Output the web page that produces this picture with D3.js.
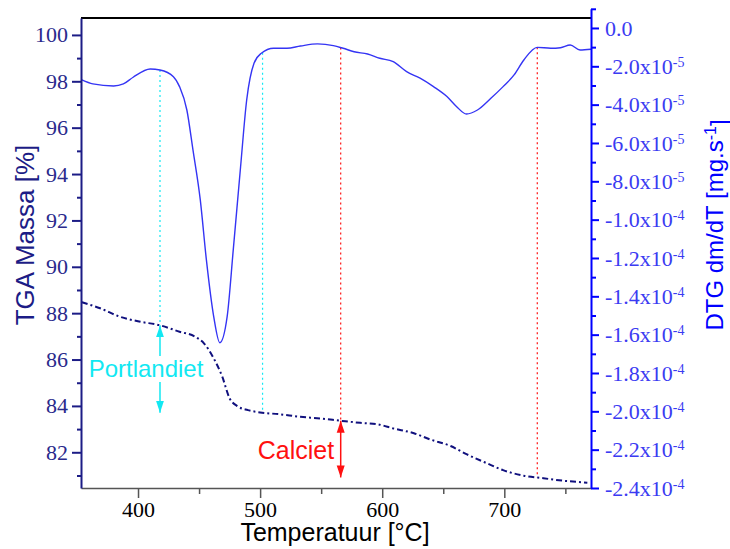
<!DOCTYPE html>
<html>
<head>
<meta charset="utf-8">
<script src="https://cdn.jsdelivr.net/npm/d3@7"></script>
<style>
body{margin:0;background:#fff}
svg{display:block}
</style>
</head>
<body>
<div class="canvas"></div>
<script>
// DTG curve: temperature (°C) and dm/dT in units of 1e-5 mg/s
const dtgTemp = [354,363,380,388,396,410,418,429,434,440,445,451,456,462,467,473,478,484,489,495,501,511,522,533,547,560,568,577,588,598,609,620,631,642,653,661,669,678,689,699,708,716,727,738,746,754,762,771]
const dtgVal = [-2.71,-2.92,-3.03,-2.92,-2.57,-2.14,-2.19,-2.54,-3.06,-4.28,-6.36,-8.97,-12.10,-15.06,-16.42,-15.06,-11.58,-7.24,-3.76,-1.84,-1.32,-1.06,-1.06,-0.94,-0.83,-0.92,-1.06,-1.24,-1.36,-1.58,-1.76,-2.28,-2.62,-3.06,-3.58,-4.11,-4.49,-4.28,-3.67,-3.06,-2.45,-1.67,-1.01,-1.06,-1.03,-0.89,-1.15,-1.11]

// TGA curve: temperature (°C) and mass (%)
const tgaTemp = [354,369,385,402,417,434,447,454,462,469,475,481,490,500,516,533,549,566,582,596,609,626,639,656,669,686,699,716,732,749,768]
const tgaVal = [88.47,88.21,87.85,87.63,87.49,87.20,86.98,86.70,86.05,85.26,84.33,84.00,83.82,83.72,83.64,83.53,83.46,83.36,83.27,83.21,83.03,82.82,82.56,82.27,81.92,81.52,81.23,80.99,80.88,80.77,80.69]

// tick values
const tempMajor = [400,500,600,700]
const tempMinor = [450,550,650,750]
const massMajor = [82,84,86,88,90,92,94,96,98,100]
const massMinor = [81,83,85,87,89,91,93,95,97,99]
const dtgMajor = [0,-2,-4,-6,-8,-10,-12,-14,-16,-18,-20,-22,-24]
const dtgMinor = [1,-1,-3,-5,-7,-9,-11,-13,-15,-17,-19,-21,-23]

// vertical marker temperatures
const cyanMarks = [418,502]
const redMarks = [566,727]

const margin = {top:18, right:139, bottom:61, left:81}
const graphWidth = 730 - margin.left - margin.right
const graphHeight = 549 - margin.top - margin.bottom

const svg = d3.select('.canvas').append('svg').attr('width',730).attr('height',549)
const graph = svg.append('g').attr('transform',`translate(${margin.left},${margin.top})`)

// scales
const x = d3.scaleLinear().domain([353.3,771]).range([0,graphWidth])
const yL = d3.scaleLinear().domain([80.46,100.73]).range([graphHeight,0])
const yR = d3.scaleLinear().domain([-24,0.52]).range([graphHeight,0])
const yRAxis = d3.scaleLinear().domain([-24,1]).range([yR(-24),yR(1)])

const NAVY = '#1c1c86'
const BLUE = '#0000ff'
const CYAN = '#12e8f2'
const RED = '#ff1010'
const serif = "'Liberation Serif', 'Times New Roman', serif"
const sans = "'Liberation Sans', Arial, sans-serif"

// linear lookup in a data series
const interp = (xs,ys,t) => {
  const i = Math.max(1,Math.min(xs.length-1,d3.bisectLeft(xs,t)))
  const f = (t-xs[i-1])/(xs[i]-xs[i-1])
  return ys[i-1] + f*(ys[i]-ys[i-1])
}

// arrow heads
const defs = svg.append('defs')
const addHead = (id,color) => {
  defs.append('marker').attr('id',id).attr('markerUnits','userSpaceOnUse')
    .attr('markerWidth',13).attr('markerHeight',9).attr('refX',12).attr('refY',4.5)
    .attr('orient','auto-start-reverse')
    .append('path').attr('d','M0,0.5 L12,4.5 L0,8.5 Z').attr('fill',color)
}
addHead('headC',CYAN)
addHead('headR',RED)

// marker lines between the two curves
const markLine = (t,color) => {
  graph.append('line')
    .attr('x1',x(t)).attr('x2',x(t))
    .attr('y1',yR(interp(dtgTemp,dtgVal,t))).attr('y2',yL(interp(tgaTemp,tgaVal,t)))
    .attr('stroke',color).attr('stroke-width',1.2).attr('stroke-dasharray','2,3')
}
cyanMarks.forEach(t=>markLine(t,CYAN))
redMarks.forEach(t=>markLine(t,RED))

// curves
const dtgLine = d3.line().x((d,i)=>x(dtgTemp[i])).y(d=>yR(d)).curve(d3.curveMonotoneX)
const tgaLine = d3.line().x((d,i)=>x(tgaTemp[i])).y(d=>yL(d)).curve(d3.curveMonotoneX)

graph.append('path').datum(dtgVal).attr('fill','none').attr('stroke','#3434f4')
  .attr('stroke-width',1.4).attr('d',dtgLine)
graph.append('path').datum(tgaVal).attr('fill','none').attr('stroke','#10107e')
  .attr('stroke-width',2).attr('stroke-dasharray','6,3,2,3').attr('d',tgaLine)

// Portlandiet annotation
const pX = x(cyanMarks[0])
const pTop = yL(interp(tgaTemp,tgaVal,cyanMarks[0]))
const pBot = yL(interp(tgaTemp,tgaVal,cyanMarks[1]))
const pBase = 377 - margin.top
graph.append('line').attr('x1',pX).attr('x2',pX).attr('y1',pTop).attr('y2',pBase-21)
  .attr('stroke',CYAN).attr('stroke-width',1.5).attr('marker-start','url(#headC)')
graph.append('line').attr('x1',pX).attr('x2',pX).attr('y1',pBase+5).attr('y2',pBot)
  .attr('stroke',CYAN).attr('stroke-width',1.5).attr('marker-end','url(#headC)')
graph.append('text').attr('x',146-margin.left).attr('y',pBase)
  .attr('text-anchor','middle').style('font-family',sans)
  .style('font-size','24px').attr('fill',CYAN).text('Portlandiet')

// Calciet annotation
const cX = x(redMarks[0])
graph.append('line').attr('x1',cX).attr('x2',cX)
  .attr('y1',yL(interp(tgaTemp,tgaVal,redMarks[0]))).attr('y2',yL(interp(tgaTemp,tgaVal,redMarks[1])))
  .attr('stroke',RED).attr('stroke-width',1.5)
  .attr('marker-start','url(#headR)').attr('marker-end','url(#headR)')
graph.append('text').attr('x',296-margin.left).attr('y',459-margin.top)
  .attr('text-anchor','middle').style('font-family',sans)
  .style('font-size','25px').attr('fill',RED).text('Calciet')

// top frame line
graph.append('line').attr('x1',0).attr('x2',graphWidth).attr('y1',0).attr('y2',0)
  .attr('stroke','#000').attr('stroke-width',2)

// minor ticks only (no labels, no domain)
const minorTicks = (group,axis,color) => {
  const g = group.append('g').call(axis.tickFormat(''))
  g.select('.domain').remove()
  g.selectAll('text').remove()
  g.selectAll('line').attr('stroke',color)
  return g
}

// bottom axis
const xAxisGroup = graph.append('g').attr('transform',`translate(0,${graphHeight})`)
xAxisGroup.call(d3.axisBottom(x).tickValues(tempMajor).tickSize(10).tickSizeOuter(0).tickPadding(3))
xAxisGroup.selectAll('text').style('font-family',serif).style('font-size','22px').attr('fill','#000')
minorTicks(xAxisGroup,d3.axisBottom(x).tickValues(tempMinor).tickSize(6),'#555')
xAxisGroup.selectAll('path,line').attr('stroke','#555').attr('stroke-width',1.5)

// left axis
const yAxisGroup = graph.append('g')
yAxisGroup.call(d3.axisLeft(yL).tickValues(massMajor).tickSize(9).tickSizeOuter(0).tickPadding(4))
yAxisGroup.selectAll('text').style('font-family',serif).style('font-size','22px').attr('fill','#2a2a8c')
minorTicks(yAxisGroup,d3.axisLeft(yL).tickValues(massMinor).tickSize(4),NAVY)
yAxisGroup.selectAll('path,line').attr('stroke',NAVY).attr('stroke-width',2)

// right axis
const rAxisGroup = graph.append('g').attr('transform',`translate(${graphWidth},0)`)
rAxisGroup.call(d3.axisRight(yRAxis).tickValues(dtgMajor).tickSize(8).tickSizeOuter(0).tickPadding(6))
rAxisGroup.selectAll('text').style('font-family',serif).style('font-size','22px').attr('fill','#3b3bf2')
  .each(function(d){
    const t = d3.select(this)
    if (d===0) return t.text('0.0')
    const big = Math.abs(d)>=10
    t.text(null)
    t.append('tspan').text((big ? d/10 : d).toFixed(1)+'x10')
    t.append('tspan').attr('dy','-0.5em').style('font-size','14px').text(big ? '-4' : '-5')
  })
minorTicks(rAxisGroup,d3.axisRight(yRAxis).tickValues(dtgMinor).tickSize(5),BLUE)
rAxisGroup.selectAll('path,line').attr('stroke',BLUE).attr('stroke-width',2)

// axis titles
svg.append('text').attr('x',335).attr('y',541).attr('text-anchor','middle')
  .style('font-family',sans).style('font-size','25px').attr('fill','#000')
  .text('Temperatuur [°C]')

svg.append('text').attr('transform','translate(34,235) rotate(-90)').attr('text-anchor','middle')
  .style('font-family',sans).style('font-size','26px').attr('fill',NAVY)
  .text('TGA Massa [%]')

const rTitle = svg.append('text').attr('transform','translate(723,225) rotate(-90)').attr('text-anchor','middle')
  .style('font-family',sans).style('font-size','24px').attr('fill',BLUE)
rTitle.append('tspan').text('DTG dm/dT [mg.s')
rTitle.append('tspan').attr('dy','-0.45em').style('font-size','16px').text('-1')
rTitle.append('tspan').attr('dy','0.45em').text(']')
</script>
</body>
</html>
